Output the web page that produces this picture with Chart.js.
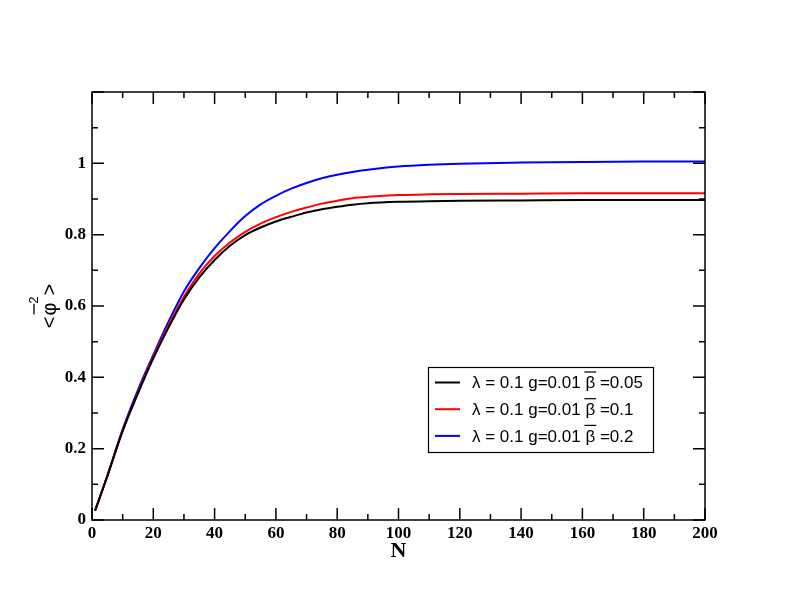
<!DOCTYPE html>
<html>
<head>
<meta charset="utf-8">
<script src="https://cdn.jsdelivr.net/npm/chart.js@4"></script>
<style>
  html, body { margin: 0; padding: 0; background: #fff; }
  #c { display: block; }
</style>
</head>
<body>
<canvas id="c" width="792" height="612" style="width:792px;height:612px"></canvas>
<script>
// ---- data ----
const N = [1, 5, 10, 15, 20, 25, 30, 35, 40, 45, 50, 55, 60, 65, 70, 75, 80, 85, 90, 100, 110, 120, 140, 160, 180, 200];
const phiBeta005 = [0.026, 0.123, 0.250, 0.355, 0.453, 0.540, 0.618, 0.680, 0.729, 0.769, 0.799, 0.820, 0.837, 0.850, 0.862, 0.871, 0.878, 0.884, 0.888, 0.892, 0.894, 0.895, 0.896, 0.897, 0.897, 0.897];
const phiBeta01  = [0.026, 0.123, 0.250, 0.357, 0.457, 0.546, 0.626, 0.691, 0.740, 0.778, 0.808, 0.831, 0.849, 0.864, 0.876, 0.887, 0.895, 0.902, 0.906, 0.911, 0.913, 0.914, 0.915, 0.916, 0.916, 0.916];
const phiBeta02  = [0.026, 0.124, 0.254, 0.365, 0.463, 0.557, 0.641, 0.706, 0.762, 0.810, 0.852, 0.885, 0.909, 0.929, 0.945, 0.958, 0.968, 0.976, 0.982, 0.991, 0.996, 0.999, 1.002, 1.004, 1.005, 1.005];
const seriesLabels = ['λ = 0.1 g=0.01 β =0.05', 'λ = 0.1 g=0.01 β =0.1', 'λ = 0.1 g=0.01 β =0.2'];
const seriesColors = ['#000000', '#ff0000', '#0000ff'];
const xAxisTitle = 'N';
const yAxisTitleParts = ['<', 'φ', '2', '>'];   // <φ̄²>
const xRange = [0, 200], xStep = 20;
const yRange = [0, 1.2], yStep = 0.2;

const toPts = (vals) => N.map((n, i) => ({ x: n, y: vals[i] }));

// inward ticks on all four sides + frame
const frameTicks = {
  id: 'frameTicks',
  afterDraw(chart) {
    const { ctx, chartArea: a, scales: { x, y } } = chart;
    const major = 12, minor = 6;
    ctx.save();
    ctx.strokeStyle = '#000';
    ctx.lineWidth = 1.5;
    ctx.strokeRect(a.left, a.top, a.right - a.left, a.bottom - a.top);
    const xs = x.ticks.map(t => t.value);
    const ys = y.ticks.map(t => t.value);
    const xMin = [], yMin = [];
    for (let i = 0; i + 1 < xs.length; i++) xMin.push((xs[i] + xs[i + 1]) / 2);
    for (let i = 0; i + 1 < ys.length; i++) yMin.push((ys[i] + ys[i + 1]) / 2);
    ctx.beginPath();
    const xt = (v, len) => {
      const p = x.getPixelForValue(v);
      ctx.moveTo(p, a.bottom); ctx.lineTo(p, a.bottom - len);
      ctx.moveTo(p, a.top); ctx.lineTo(p, a.top + len);
    };
    const yt = (v, len) => {
      const p = y.getPixelForValue(v);
      ctx.moveTo(a.left, p); ctx.lineTo(a.left + len, p);
      ctx.moveTo(a.right, p); ctx.lineTo(a.right - len, p);
    };
    xs.forEach(v => xt(v, major)); xMin.forEach(v => xt(v, minor));
    ys.forEach(v => yt(v, major)); yMin.forEach(v => yt(v, minor));
    ctx.stroke();
    ctx.restore();
  }
};

// rotated y-axis title <φ̄²> with overline and superscript
const yTitle = {
  id: 'yTitle',
  afterDraw(chart) {
    const { ctx, chartArea: a } = chart;
    const [lt, phi, sup, gt] = yAxisTitleParts;
    const big = '20px "Liberation Sans", Arial, sans-serif';
    const small = '13px "Liberation Sans", Arial, sans-serif';
    ctx.save();
    ctx.translate(56, (a.top + a.bottom) / 2);
    ctx.rotate(-Math.PI / 2);
    ctx.fillStyle = '#000';
    ctx.textBaseline = 'alphabetic';
    ctx.textAlign = 'left';
    ctx.font = big;
    const wLt = ctx.measureText(lt).width, wPhi = ctx.measureText(phi).width, wGt = ctx.measureText(gt).width;
    ctx.font = small;
    const wSup = ctx.measureText(sup).width;
    const total = wLt + 1 + wPhi + wSup + wGt;
    let u = -total / 2;
    ctx.font = big;
    ctx.fillText(lt, u, 0); u += wLt + 1;
    ctx.fillText(phi, u, 0);
    ctx.strokeStyle = '#000';
    ctx.lineWidth = 1.3;
    ctx.beginPath();
    ctx.moveTo(u + 1, -22); ctx.lineTo(u + wPhi - 1, -22);
    ctx.stroke();
    u += wPhi - 1;
    ctx.font = small;
    ctx.fillText(sup, u, -18); u += wSup + 1;
    ctx.font = big;
    ctx.fillText(gt, u, 0);
    ctx.restore();
  }
};

// boxed legend inside the plot
const boxLegend = {
  id: 'boxLegend',
  afterDraw(chart) {
    const { ctx } = chart;
    const bx = 428, by = 367, bw = 225, bh = 85;
    const rowY0 = 382.5, rowDy = 26.7;
    ctx.save();
    ctx.fillStyle = '#fff';
    ctx.fillRect(bx, by, bw, bh);
    ctx.strokeStyle = '#000';
    ctx.lineWidth = 1.2;
    ctx.strokeRect(bx + 0.5, by + 0.5, bw, bh);
    ctx.font = '17px "Liberation Sans", Arial, sans-serif';
    ctx.textBaseline = 'middle';
    ctx.textAlign = 'left';
    chart.data.datasets.forEach((ds, i) => {
      const yy = rowY0 + i * rowDy;
      ctx.strokeStyle = ds.borderColor;
      ctx.lineWidth = 2;
      ctx.beginPath();
      ctx.moveTo(435, yy); ctx.lineTo(460, yy);
      ctx.stroke();
      ctx.fillStyle = '#000';
      const tx = 472;
      ctx.fillText(ds.label, tx, yy + 1);
      const k = ds.label.indexOf('β');
      if (k >= 0) {
        const pre = ctx.measureText(ds.label.slice(0, k)).width;
        const bw2 = ctx.measureText('β').width;
        ctx.strokeStyle = '#000';
        ctx.lineWidth = 1.2;
        ctx.beginPath();
        ctx.moveTo(tx + pre - 1, yy - 10.5);
        ctx.lineTo(tx + pre + bw2 + 1, yy - 10.5);
        ctx.stroke();
      }
    });
    ctx.restore();
  }
};

new Chart(document.getElementById('c'), {
  type: 'line',
  data: {
    datasets: [phiBeta005, phiBeta01, phiBeta02].map((vals, i) => ({
      label: seriesLabels[i],
      data: toPts(vals),
      borderColor: seriesColors[i],
      backgroundColor: seriesColors[i],
      borderWidth: 2,
      pointRadius: 0,
      cubicInterpolationMode: 'monotone',
      fill: false
    }))
  },
  options: {
    responsive: false,
    animation: false,
    devicePixelRatio: 1,
    layout: { padding: { left: 0, top: 92, right: 87, bottom: 0 } },
    plugins: { legend: { display: false }, tooltip: { enabled: false } },
    scales: {
      x: {
        type: 'linear',
        min: xRange[0], max: xRange[1],
        afterFit(s) { s.height = 92; },
        grid: { display: false, drawTicks: false },
        border: { display: false },
        ticks: {
          stepSize: xStep,
          padding: 3,
          color: '#000',
          font: { family: '"Liberation Serif", "Times New Roman", serif', size: 17, weight: 'bold' },
          maxRotation: 0,
          callback: (v) => String(Math.round(v))
        },
        title: {
          display: true,
          text: xAxisTitle,
          color: '#000',
          font: { family: '"Liberation Serif", "Times New Roman", serif', size: 22, weight: 'bold' },
          padding: { top: 0, bottom: 47 }
        }
      },
      y: {
        type: 'linear',
        min: yRange[0], max: yRange[1],
        afterFit(s) { s.width = 92; },
        grid: { display: false, drawTicks: false },
        border: { display: false },
        ticks: {
          stepSize: yStep,
          padding: 6,
          color: '#000',
          font: { family: '"Liberation Serif", "Times New Roman", serif', size: 17, weight: 'bold' },
          callback: (v) => {
            const r = Math.round(v * 10) / 10;
            return r >= yRange[1] - 1e-9 ? '' : String(r);
          }
        },
        title: { display: false }
      }
    }
  },
  plugins: [frameTicks, yTitle, boxLegend]
});
</script>
</body>
</html>
